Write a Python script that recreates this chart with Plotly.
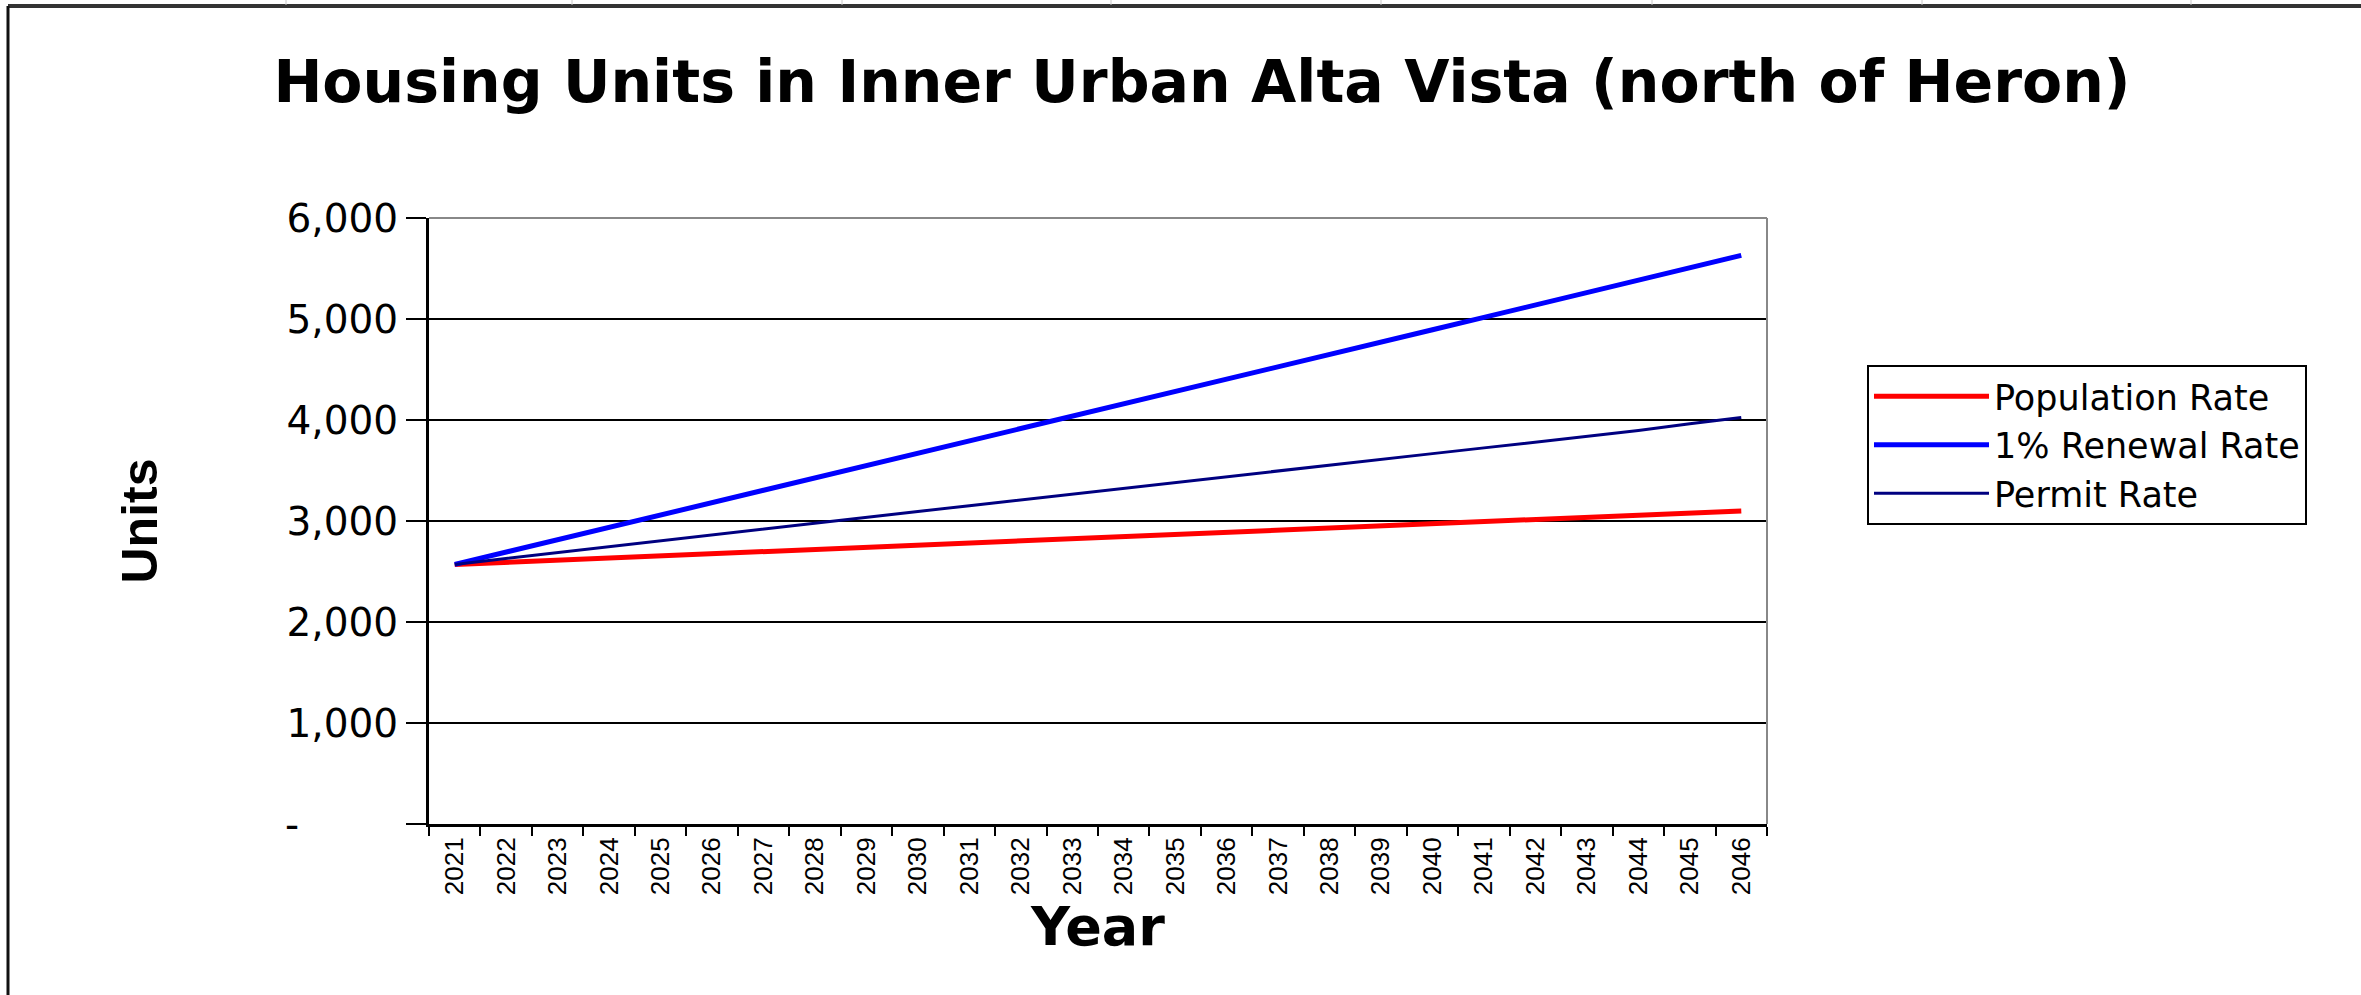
import plotly.graph_objects as go

years = [str(y) for y in range(2021, 2047)]
population_rate = [2570, 2591, 2612, 2633, 2654, 2675, 2696, 2717, 2738, 2759, 2780, 2801, 2822,
                   2843, 2864, 2885, 2906, 2927, 2948, 2969, 2990, 3012, 3034, 3056, 3078, 3100]
renewal_rate = [2570, 2693, 2816, 2939, 3062, 3185, 3307, 3430, 3552, 3674, 3796, 3918, 4040,
                4162, 4284, 4406, 4528, 4650, 4772, 4894, 5016, 5138, 5260, 5382, 5505, 5630]
permit_rate = [2570, 2629, 2688, 2746, 2804, 2862, 2920, 2978, 3036, 3094, 3152, 3210, 3268,
               3325, 3382, 3439, 3496, 3553, 3610, 3667, 3724, 3781, 3838, 3895, 3962, 4025]
y_tickvals = [0, 1000, 2000, 3000, 4000, 5000, 6000]
y_ticktext = ["-" + "\u00a0" * 8, "1,000", "2,000", "3,000", "4,000", "5,000", "6,000"]

W, H = 2361, 995
L, R, T, B = 429, 1767, 218, 824


def px(x):
    return (x - L) / (R - L)


def py(y):
    return (B - y) / (B - T)


fig = go.Figure()
fig.add_trace(go.Scatter(x=years, y=population_rate, mode="lines", name="Population Rate",
                         line=dict(color="#FF0000", width=5)))
fig.add_trace(go.Scatter(x=years, y=renewal_rate, mode="lines", name="1% Renewal Rate",
                         line=dict(color="#0000FF", width=5)))
fig.add_trace(go.Scatter(x=years, y=permit_rate, mode="lines", name="Permit Rate",
                         line=dict(color="#000080", width=3)))

shapes = []
# plot area top and right border (gray)
shapes.append(dict(type="line", xref="paper", yref="paper", x0=0, x1=1, y0=1, y1=1,
                   line=dict(color="#888888", width=2), layer="above"))
shapes.append(dict(type="line", xref="paper", yref="paper", x0=1, x1=1, y0=0, y1=1,
                   line=dict(color="#888888", width=2), layer="above"))
# chart area border (left and top)
shapes.append(dict(type="line", xref="paper", yref="paper", x0=px(8), x1=px(W + 20), y0=py(6), y1=py(6),
                   line=dict(color="#333333", width=4), layer="above"))
shapes.append(dict(type="line", xref="paper", yref="paper", x0=px(8), x1=px(8), y0=py(6), y1=py(H + 20),
                   line=dict(color="#111111", width=3), layer="above"))
# spreadsheet column lines above the chart
for cx in [286, 572, 842, 1111, 1381, 1652, 1922, 2191]:
    shapes.append(dict(type="line", xref="paper", yref="paper", x0=px(cx), x1=px(cx), y0=py(0), y1=py(5),
                       line=dict(color="#c8c8c8", width=1), layer="above"))

fig.update_layout(
    width=W, height=H,
    margin=dict(l=L, r=W - R, t=T, b=H - B, autoexpand=False),
    paper_bgcolor="white", plot_bgcolor="white",
    title=dict(text="<b>Housing Units in Inner Urban Alta Vista (north of Heron)</b>",
               x=1202 / W, xanchor="center", xref="container",
               y=1 - 82 / H, yanchor="middle", yref="container",
               font=dict(family="DejaVu Sans", size=58.5, color="black")),
    xaxis=dict(
        type="category", range=[-0.5, 25.5],
        showgrid=False, zeroline=False,
        showline=True, linecolor="black", linewidth=3,
        ticks="outside", tickson="boundaries", ticklen=9, tickwidth=2, tickcolor="black",
        tickangle=-90,
        tickfont=dict(family="Liberation Sans", size=26, color="black"),
        title=dict(text="<b>Year</b>", font=dict(family="DejaVu Sans", size=54, color="black"),
                   standoff=8),
    ),
    yaxis=dict(
        range=[0, 6000], tickvals=y_tickvals, ticktext=y_ticktext,
        showgrid=True, gridcolor="black", gridwidth=2,
        zeroline=False,
        showline=True, linecolor="black", linewidth=3,
        ticks="outside", ticklen=20, tickwidth=2, tickcolor="black",
        tickfont=dict(family="DejaVu Sans", size=39, color="black"),
        title=dict(text="<b>Units</b>", font=dict(family="Liberation Sans", size=50, color="black"),
                   standoff=112),
    ),
    legend=dict(
        x=px(1867), xanchor="left", y=py(365), yanchor="top",
        bordercolor="black", borderwidth=2, bgcolor="white",
        font=dict(family="DejaVu Sans", size=35, color="black"),
        itemwidth=115, tracegroupgap=0,
    ),
    shapes=shapes,
)

fig.write_html("out.html", config={"displayModeBar": False},
               post_script="document.body.style.margin='0';")
